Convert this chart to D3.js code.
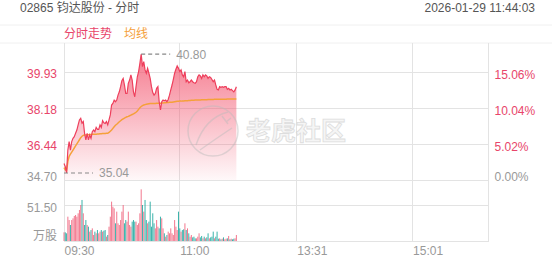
<!DOCTYPE html>
<html>
<head>
<meta charset="utf-8">
<script src="https://cdn.jsdelivr.net/npm/d3@7"></script>
<style>
  body { margin: 0; background: #fff; }
  svg text { font-family: "Liberation Sans", Arial, "Noto Sans CJK SC", sans-serif; }
</style>
</head>
<body>
<div id="svgDiv"></div>
<script>
// chart values
var prevClose = 34.70;
var priceTicks = [34.70, 36.44, 38.18, 39.93];
var pctLabels = ["0.00%", "5.02%", "10.04%", "15.06%"];
var volTicks = [51.50];
var timeTicks = [0, 90, 181, 271];           // trading-minute index
var timeLabels = ["09:30", "11:00", "13:31", "15:01"];

var prices = [35.50,35.35,35.04,36.15,36.56,36.15,36.56,36.72,36.80,36.96,
  37.12,37.37,37.61,37.69,37.45,37.53,36.96,36.64,36.96,36.64,
  36.88,36.72,37.04,37.12,37.04,37.25,37.15,37.15,37.37,37.25,
  37.57,37.47,37.44,37.53,37.37,37.61,37.85,38.33,38.41,38.57,
  38.49,38.57,38.81,38.97,39.22,39.51,39.62,39.30,38.89,38.89,
  39.38,39.54,39.79,39.54,38.97,38.73,39.22,39.70,39.95,40.35,
  40.80,40.19,40.43,40.03,39.87,40.11,39.87,39.62,39.22,38.93,
  38.81,38.89,39.14,39.22,38.49,38.09,38.49,38.57,38.54,38.57,
  38.49,38.60,38.81,39.06,39.30,39.57,39.87,40.06,40.22,40.11,
  39.95,40.03,39.79,39.70,39.95,39.46,39.54,39.41,39.46,39.54,
  39.46,39.41,39.38,39.46,39.70,39.79,39.74,39.62,39.79,39.70,
  39.79,39.74,39.62,39.70,39.67,39.57,39.46,39.54,39.30,39.09,
  39.06,39.22,39.19,39.22,39.19,39.22,39.22,39.09,39.14,39.06,
  39.09,39.03,38.97,39.06,39.22];

var avgPrices = [35.30,35.20,35.15,35.60,35.85,35.95,36.05,36.15,36.25,36.35,
  36.45,36.55,36.65,36.75,36.82,36.86,36.88,36.88,36.89,36.89,
  36.90,36.90,36.91,36.91,36.92,36.92,36.93,36.93,36.94,36.94,
  36.95,36.95,36.95,36.96,36.96,37.00,37.06,37.12,37.20,37.28,
  37.35,37.40,37.46,37.52,37.57,37.62,37.66,37.70,37.73,37.76,
  37.78,37.81,37.84,37.87,37.90,37.94,37.98,38.04,38.12,38.20,
  38.26,38.30,38.33,38.35,38.37,38.38,38.39,38.40,38.41,38.41,
  38.41,38.41,38.42,38.42,38.42,38.42,38.43,38.43,38.44,38.44,
  38.45,38.45,38.46,38.46,38.47,38.48,38.49,38.50,38.51,38.51,
  38.52,38.52,38.53,38.53,38.54,38.54,38.54,38.55,38.55,38.56,
  38.56,38.56,38.57,38.57,38.58,38.58,38.58,38.59,38.59,38.59,
  38.59,38.59,38.60,38.60,38.60,38.60,38.60,38.61,38.61,38.61,
  38.61,38.61,38.61,38.61,38.61,38.61,38.61,38.62,38.62,38.62,
  38.62,38.62,38.62,38.62,38.62];

var volumes = [12.4,12.4,11.0,34.8,30.0,22.9,30.0,32.4,35.8,37.2,
  34.8,39.6,44.4,51.5,58.7,39.6,22.9,30.0,22.9,20.5,
  13.4,15.7,18.1,8.6,13.4,11.0,15.7,11.0,13.4,15.7,
  13.4,14.8,15.7,6.2,8.6,20.5,34.8,56.3,49.1,46.7,
  25.3,42.0,25.3,22.9,30.0,42.0,51.5,25.3,30.0,27.7,
  42.0,22.9,20.5,27.7,30.0,27.7,27.7,22.9,25.3,39.6,
  73.9,51.5,42.0,58.7,30.0,25.3,27.7,56.3,20.5,39.6,
  25.3,18.1,30.0,20.5,18.1,34.8,32.4,18.1,11.0,6.2,
  8.6,13.4,11.0,18.1,11.0,8.6,30.0,20.5,15.7,42.0,
  18.1,13.4,15.7,16.7,25.3,15.7,18.1,11.0,6.2,8.6,
  5.2,6.2,3.8,3.8,6.2,11.0,5.2,7.2,3.8,6.2,
  3.8,5.2,11.0,3.8,5.2,6.2,13.4,3.8,6.2,13.4,
  3.3,3.8,2.4,3.3,5.2,2.4,3.3,3.8,7.2,2.4,
  3.3,2.4,3.3,3.8,8.6];

var svgWidth = 552, svgHeight = 265;
var left = 64, right = 488.5;
var priceTop = 72, priceBottom = 180, volTop = 180, volBottom = 241, gridTop = 43;

var red = "#e8456a", gray = "#999", gridColor = "#e3e3e3";

var svg = d3.select("#svgDiv").append("svg")
  .attr("width", svgWidth).attr("height", svgHeight);

var xScale = d3.scaleLinear().domain([0, 330]).range([left, right]);
var yScale = d3.scaleLinear().domain([prevClose, 39.93]).range([priceBottom, priceTop]);
var pctScale = d3.scaleLinear().domain([0, 15.06]).range([priceBottom, priceTop]);
var vScale = d3.scaleLinear().domain([0, 51.50]).range([volBottom, 205]);

// header
svg.append("text").attr("x", 20).attr("y", 12).attr("font-size", 12).attr("fill", "#555")
  .text("02865 钧达股份 - 分时");
svg.append("text").attr("x", 535).attr("y", 12).attr("font-size", 12).attr("fill", "#555")
  .attr("text-anchor", "end").text("2026-01-29  11:44:03");
svg.append("line").attr("x1", 0).attr("x2", svgWidth).attr("y1", 25).attr("y2", 25).attr("stroke", "#f0f0f0");
svg.append("line").attr("x1", 0).attr("x2", svgWidth).attr("y1", gridTop).attr("y2", gridTop).attr("stroke", "#f0f0f0");
svg.append("text").attr("x", 64).attr("y", 38).attr("font-size", 12).attr("fill", red).text("分时走势");
svg.append("text").attr("x", 124).attr("y", 38).attr("font-size", 12).attr("fill", "#f5a03a").text("均线");

// grid
var grid = svg.append("g").attr("stroke", gridColor).attr("stroke-width", 1).attr("shape-rendering", "crispEdges");
timeTicks.concat([330]).forEach(function(t){
  grid.append("line").attr("x1", xScale(t)).attr("x2", xScale(t)).attr("y1", gridTop).attr("y2", volBottom);
});
priceTicks.forEach(function(p){
  grid.append("line").attr("x1", left).attr("x2", right).attr("y1", yScale(p)).attr("y2", yScale(p));
});
[0].concat(volTicks).forEach(function(v){
  grid.append("line").attr("x1", left).attr("x2", right).attr("y1", vScale(v)).attr("y2", vScale(v));
});

// left price axis
var leftAxis = svg.append("g").attr("transform", "translate(" + (left - 7) + ",0)")
  .call(d3.axisLeft(yScale).tickValues(priceTicks).tickSize(0).tickPadding(0).tickFormat(d3.format(".2f")));
leftAxis.select(".domain").remove();
leftAxis.selectAll("text").attr("font-size", 12)
  .attr("fill", function(d){ return d > prevClose ? red : gray; })
  .attr("dy", function(d){ return d === prevClose ? "0.05em" : "0.42em"; });

// right percent axis
var rightAxis = svg.append("g").attr("transform", "translate(" + (right + 6) + ",0)")
  .call(d3.axisRight(yScale).tickValues(priceTicks).tickSize(0).tickPadding(0)
    .tickFormat(function(d, i){ return pctLabels[i]; }));
rightAxis.select(".domain").remove();
rightAxis.selectAll("text").attr("font-size", 12)
  .attr("fill", function(d){ return d > prevClose ? red : gray; })
  .attr("dy", function(d){ return d === prevClose ? "0.05em" : "0.5em"; });

// volume axis
var volAxis = svg.append("g").attr("transform", "translate(" + (left - 7) + ",0)")
  .call(d3.axisLeft(vScale).tickValues(volTicks).tickSize(0).tickPadding(0).tickFormat(d3.format(".2f")));
volAxis.select(".domain").remove();
volAxis.selectAll("text").attr("font-size", 12).attr("fill", gray).attr("dy", "0.5em");
svg.append("text").attr("x", left - 7).attr("y", 240).attr("font-size", 12).attr("fill", gray)
  .attr("text-anchor", "end").text("万股");

// time axis
var timeAxis = svg.append("g").attr("transform", "translate(0," + volBottom + ")")
  .call(d3.axisBottom(xScale).tickValues(timeTicks).tickSize(0).tickPadding(0)
    .tickFormat(function(d, i){ return timeLabels[i]; }));
timeAxis.select(".domain").remove();
timeAxis.selectAll("text").attr("font-size", 12).attr("fill", gray)
  .attr("text-anchor", "start").attr("dy", "1.2em");

// area gradient
var defs = svg.append("defs");
var grad = defs.append("linearGradient").attr("id", "areaGrad")
  .attr("gradientUnits", "userSpaceOnUse")
  .attr("x1", 0).attr("x2", 0).attr("y1", yScale(40.80)).attr("y2", priceBottom);
grad.append("stop").attr("offset", "0%").attr("stop-color", "#f2506a").attr("stop-opacity", 0.75);
grad.append("stop").attr("offset", "100%").attr("stop-color", "#f2506a").attr("stop-opacity", 0.04);

var area = d3.area()
  .x(function(d, i){ return xScale(i); })
  .y0(priceBottom)
  .y1(function(d){ return yScale(d); });
svg.append("path").datum(prices).attr("d", area).attr("fill", "url(#areaGrad)");

// volume bars
svg.append("g").selectAll("rect").data(volumes).enter().append("rect")
  .attr("x", function(d, i){ return xScale(i) - 0.5; })
  .attr("width", 1)
  .attr("y", function(d){ return vScale(d); })
  .attr("height", function(d){ return volBottom - vScale(d); })
  .attr("fill", function(d, i){
    var prev = i === 0 ? prevClose : prices[i - 1];
    return prices[i] >= prev ? "#f0607a" : "#1aa69c";
  })
  .attr("opacity", 0.85);

// watermark
var wm = svg.append("g").attr("opacity", 0.45).attr("fill", "none").attr("stroke", "#bbb");
wm.append("circle").attr("cx", 213).attr("cy", 131).attr("r", 25).attr("stroke-width", 1.5);
wm.append("path").attr("d", "M196,145 Q205,118 228,112 M200,150 Q214,140 232,128 M222,116 l6,8 M226,122 l5,-4")
  .attr("stroke-width", 1.5);
svg.append("text").attr("x", 246).attr("y", 140).attr("font-size", 25).attr("font-weight", "bold")
  .attr("fill", "#f2f2f2").attr("stroke", "#cfcfcf").attr("stroke-width", 0.8).attr("opacity", 0.7)
  .attr("font-family", "'Noto Sans CJK SC', sans-serif")
  .text("老虎社区");

// lines
var line = d3.line().x(function(d, i){ return xScale(i); }).y(function(d){ return yScale(d); });
svg.append("path").datum(avgPrices).attr("d", line).attr("fill", "none")
  .attr("stroke", "#f5a03a").attr("stroke-width", 1.5);
svg.append("path").datum(prices).attr("d", line).attr("fill", "none")
  .attr("stroke", "#ee3f5c").attr("stroke-width", 1.2);

// high / low markers
var hi = d3.max(prices), lo = d3.min(prices);
var hiI = prices.indexOf(hi), loI = prices.indexOf(lo);
var marks = [{i: hiI, v: hi}, {i: loI, v: lo}];
marks.forEach(function(m){
  var x0 = m.i === loI ? left : xScale(m.i);
  svg.append("line").attr("x1", x0).attr("x2", x0 + 29)
    .attr("y1", yScale(m.v)).attr("y2", yScale(m.v))
    .attr("stroke", "#888").attr("stroke-width", 1.2).attr("stroke-dasharray", "4,3");
  svg.append("text").attr("x", x0 + 35).attr("y", yScale(m.v) + 4.5)
    .attr("font-size", 12).attr("fill", gray).text(m.v.toFixed(2));
});
</script>
</body>
</html>
